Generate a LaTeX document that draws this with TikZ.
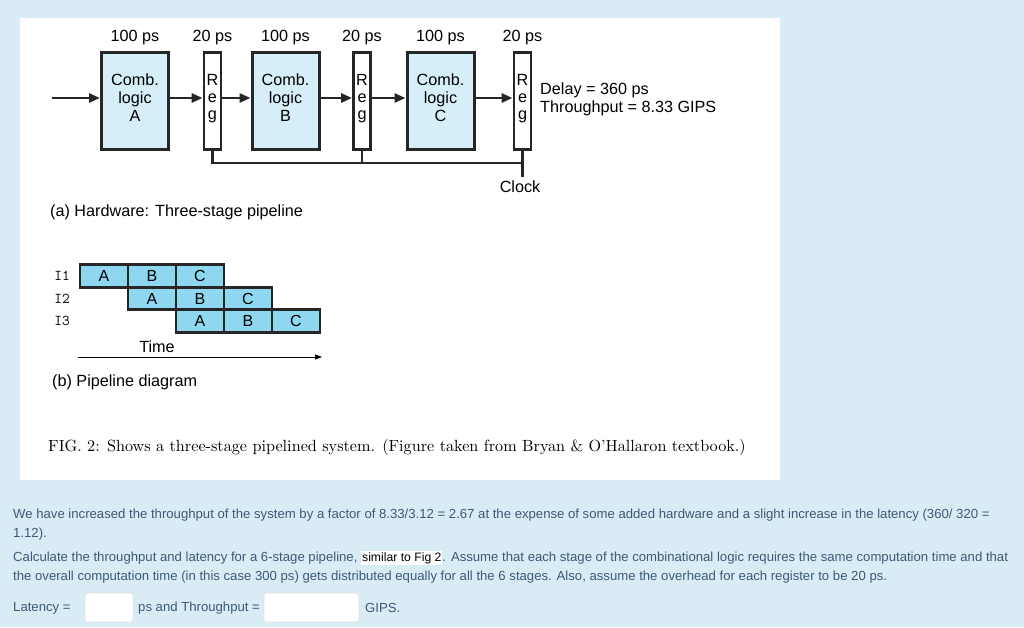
\documentclass[tikz,border=0pt]{standalone}
\usepackage{fontspec}
\usepackage{graphicx}
\setsansfont{Liberation Sans}
\newfontfamily\arialf{Liberation Sans}
\usetikzlibrary{arrows.meta}
\definecolor{bgblue}{HTML}{D9ECF6}
\definecolor{combfill}{HTML}{D6EEF8}
\definecolor{cellfill}{HTML}{8DD8F0}
\definecolor{qtext}{HTML}{3C5A78}
\tikzset{
  comb/.style={draw=black!85, line width=3pt, fill=combfill, minimum width=67pt, minimum height=97pt, inner sep=0pt},
  regbox/.style={draw=black!85, line width=2.8pt, fill=white, minimum width=17pt, minimum height=97pt, inner sep=0pt},
  flow/.style={line width=2.8pt, draw=black!85, -{Triangle[length=11pt,width=9pt]}},
  wire/.style={line width=2.8pt, draw=black!85},
  lab/.style={font=\arialf\fontsize{16.2}{18}\selectfont, inner sep=0pt},
  cell/.style={draw=black!85, line width=2.6pt, fill=cellfill, minimum width=48pt, minimum height=22.5pt, inner sep=0pt, font=\arialf\fontsize{16}{18}\selectfont},
  tt/.style={font=\ttfamily\fontsize{15}{17}\selectfont, inner sep=0pt},
  qt/.style={font=\arialf\fontsize{13.15}{15}\selectfont, text=qtext, anchor=west, inner sep=0pt},
  ansbox/.style={draw=black!12, fill=white, rounded corners=2pt, line width=0.8pt}
}
\begin{document}
\begin{tikzpicture}[x=1pt,y=-1pt]
\useasboundingbox (0,0) rectangle (1024,627);
\fill[bgblue] (0,0) rectangle (1024,627);
\fill[white] (20,18) rectangle (780,480);

% hardware
\node[comb] (A) at (135,101) {};
\node[lab, align=center] at (135,98) {Comb.\\logic\\A};
\node[regbox] (R1) at (212.5,101) {};
\node[comb] (B) at (285.5,101) {};
\node[lab, align=center] at (285.5,98) {Comb.\\logic\\B};
\node[regbox] (R2) at (362,101) {};
\node[comb] (C) at (440.5,101) {};
\node[lab, align=center] at (440.5,98) {Comb.\\logic\\C};
\node[regbox] (R3) at (522.5,101) {};
\foreach \r/\x in {R1/212.5,R2/362,R3/522.5}{
  \node[lab] at (\x,80) {R};
  \node[lab] at (\x,98) {e};
  \node[lab] at (\x,117) {g};
}
\foreach \x/\t in {135/100 ps,212.5/20 ps,285.5/100 ps,362/20 ps,440.5/100 ps,522.5/20 ps}{
  \node[lab] at (\x,38) {\t};
}
\coordinate (in) at (52,98);
\draw[flow] (in) -- (A.west |- in);
\draw[flow] (A.east |- in) -- (R1.west |- in);
\draw[flow] (R1.east |- in) -- (B.west |- in);
\draw[flow] (B.east |- in) -- (R2.west |- in);
\draw[flow] (R2.east |- in) -- (C.west |- in);
\draw[flow] (C.east |- in) -- (R3.west |- in);
\coordinate (clk) at (522.5,177);
\draw[wire] (R1.south) |- (522.5,163);
\draw[wire] (R2.south) -- (362,163);
\draw[wire] (R3.south) -- (clk);
\node[lab] (clklab) at (520,187) {Clock};
\node[lab, anchor=west, align=left] (delay) at (540,99) {Delay = 360 ps\\Throughput = 8.33 GIPS};
\node[lab, anchor=west] (capa) at (50,212) {(a) Hardware: Three-stage pipeline};

% pipeline diagram
\node[cell] (a1) at (104,276) {A};
\node[cell] (b1) at (152,276) {B};
\node[cell] (c1) at (200,276) {C};
\node[cell] (a2) at (152,298.5) {A};
\node[cell] (b2) at (200,298.5) {B};
\node[cell] (c2) at (248,298.5) {C};
\node[cell] (a3) at (200,321) {A};
\node[cell] (b3) at (248,321) {B};
\node[cell] (c3) at (296,321) {C};
\node[tt] (i1) at (62,276) {I1};
\node[tt] (i2) at (62,299) {I2};
\node[tt] (i3) at (62,321) {I3};
\node[lab] (time) at (157,347) {Time};
\coordinate (t0) at (78,357);
\coordinate (t1) at (322,357);
\draw[line width=0.8pt, -{Triangle[length=7pt,width=5pt]}] (t0) -- (t1);
\node[lab, anchor=west] (capb) at (52,382) {(b) Pipeline diagram};

% caption
\node[anchor=west, inner sep=0pt, font=\fontsize{10}{12}\selectfont] (cap) at (48,447) {\scalebox{1.62}{FIG. 2: Shows a three-stage pipelined system. (Figure taken from Bryan \& O'Hallaron textbook.)}};

% question
\node[qt] (q1) at (13,515) {We have increased the throughput of the system by a factor of 8.33/3.12 = 2.67 at the expense of some added hardware and a slight increase in the latency (360/ 320 =};
\node[qt] (q2) at (13,534) {1.12).};
\node[qt] (q3) at (13,558) {Calculate the throughput and latency for a 6-stage pipeline, {\setlength{\fboxsep}{1pt}\colorbox{white}{\color{black}\fontsize{12.2}{13}\selectfont similar to Fig 2}}. Assume that each stage of the combinational logic requires the same computation time and that};
\node[qt] (q4) at (13,577) {the overall computation time (in this case 300 ps) gets distributed equally for all the 6 stages. Also, assume the overhead for each register to be 20 ps.};
\node[qt] (l1) at (13,608) {Latency =};
\draw[ansbox] (85,593) rectangle (133,622);
\node[qt] (l2) at (138,608) {ps and Throughput =};
\draw[ansbox] (264,593) rectangle (359,622);
\node[qt] (l3) at (365,608) {GIPS.};
\end{tikzpicture}
\end{document}
